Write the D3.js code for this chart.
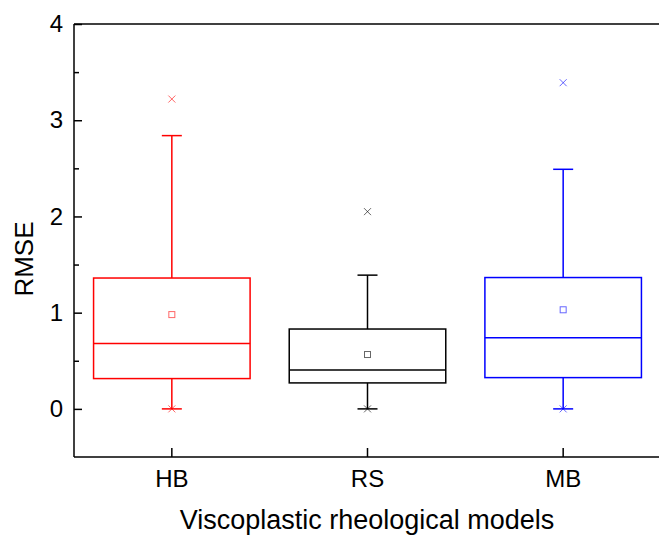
<!DOCTYPE html>
<html>
<head>
<meta charset="utf-8">
<script src="https://cdn.jsdelivr.net/npm/d3@7"></script>
<style>
    body { margin: 0; background: #fff; }
    svg { display: block; font-family: "Liberation Sans", Arial, sans-serif; }
    .axis text { font-size: 24px; fill: #000; }
    .axis line, .axis path { stroke: #000; stroke-width: 1.5px; }
</style>
</head>
<body>
<svg id="chart" width="659" height="535"></svg>
<script>
// box data
const models = ["HB", "RS", "MB"];
const colors = ["#ff0000", "#000000", "#0000ff"];
const whiskerLow = [0, 0, 0];
const q1 = [0.315, 0.27, 0.325];
const median = [0.68, 0.405, 0.74];
const q3 = [1.36, 0.83, 1.365];
const whiskerHigh = [2.84, 1.39, 2.49];
const mean = [0.98, 0.565, 1.03];
const minVal = [0, 0, 0];
const maxVal = [3.22, 2.05, 3.39];
const yTicks = [0, 1, 2, 3, 4];
const yMinorTicks = [0.5, 1.5, 2.5, 3.5];

const svg = d3.select("#chart");
const margin = { left: 74, top: 24, bottom: 457, right: 661 };

const x = d3.scaleBand().domain(models).range([margin.left, margin.right]).paddingInner(0.2).paddingOuter(0.1);
const y = d3.scaleLinear().domain([-0.5, 4]).range([margin.bottom, margin.top]);

const boxes = models.map((m, i) => ({
    name: m, color: colors[i], lo: whiskerLow[i], q1: q1[i], med: median[i],
    q3: q3[i], hi: whiskerHigh[i], mean: mean[i], min: minVal[i], max: maxVal[i]
}));

// top frame line (right side is cut by the window)
svg.append("line").attr("x1", margin.left).attr("x2", 659).attr("y1", margin.top).attr("y2", margin.top)
    .attr("stroke", "#000").attr("stroke-width", 1.5);

// y axis, ticks inward
const yAxis = d3.axisLeft(y).tickValues(yTicks).tickSize(-8).tickPadding(11).tickFormat(d3.format("d"));
const gy = svg.append("g").attr("class", "axis").attr("transform", `translate(${margin.left},0)`).call(yAxis);
gy.select(".domain").attr("d", `M0,${margin.top}V${margin.bottom}`);
// minor ticks
const yMinor = d3.axisLeft(y).tickValues(yMinorTicks).tickSize(-5).tickFormat("");
svg.append("g").attr("class", "axis").attr("transform", `translate(${margin.left},0)`)
    .call(yMinor).select(".domain").remove();

// x axis, ticks inward
const xAxis = d3.axisBottom(x).tickSize(-9).tickPadding(13);
const gx = svg.append("g").attr("class", "axis").attr("transform", `translate(0,${margin.bottom})`).call(xAxis);
gx.select(".domain").attr("d", `M${margin.left},0H659`);

// axis titles
svg.append("text").attr("transform", "translate(33,259) rotate(-90)")
    .attr("text-anchor", "middle").style("font-size", "26px").text("RMSE");
svg.append("text").attr("x", 367).attr("y", 529)
    .attr("text-anchor", "middle").style("font-size", "27px").text("Viscoplastic rheological models");

// boxes
const g = svg.selectAll(".box").data(boxes).enter().append("g").attr("class", "box");
const cx = d => x(d.name) + x.bandwidth() / 2;
const capW = 10;

g.append("line").attr("x1", cx).attr("x2", cx).attr("y1", d => y(d.q3)).attr("y2", d => y(d.hi))
    .attr("stroke", d => d.color).attr("stroke-width", 1.5);
g.append("line").attr("x1", cx).attr("x2", cx).attr("y1", d => y(d.q1)).attr("y2", d => y(d.lo))
    .attr("stroke", d => d.color).attr("stroke-width", 1.5);
g.append("line").attr("x1", d => cx(d) - capW).attr("x2", d => cx(d) + capW)
    .attr("y1", d => y(d.hi)).attr("y2", d => y(d.hi))
    .attr("stroke", d => d.color).attr("stroke-width", 1.5);
g.append("line").attr("x1", d => cx(d) - capW).attr("x2", d => cx(d) + capW)
    .attr("y1", d => y(d.lo)).attr("y2", d => y(d.lo))
    .attr("stroke", d => d.color).attr("stroke-width", 1.5);
g.append("rect").attr("x", d => x(d.name)).attr("width", x.bandwidth())
    .attr("y", d => y(d.q3)).attr("height", d => y(d.q1) - y(d.q3))
    .attr("fill", "none").attr("stroke", d => d.color).attr("stroke-width", 1.5);
g.append("line").attr("x1", d => x(d.name)).attr("x2", d => x(d.name) + x.bandwidth())
    .attr("y1", d => y(d.med)).attr("y2", d => y(d.med))
    .attr("stroke", d => d.color).attr("stroke-width", 1.5);

// mean square
g.append("rect").attr("x", d => cx(d) - 3).attr("y", d => y(d.mean) - 3)
    .attr("width", 6).attr("height", 6)
    .attr("fill", "none").attr("stroke", d => d.color).attr("stroke-opacity", 0.6).attr("stroke-width", 1);

// min / max crosses
const cross = (sel, key) => {
    const s = 3.5;
    sel.append("path")
        .attr("d", d => {
            const px = cx(d), py = y(d[key]);
            return `M${px - s},${py - s}L${px + s},${py + s}M${px - s},${py + s}L${px + s},${py - s}`;
        })
        .attr("stroke", d => d.color).attr("stroke-opacity", 0.6).attr("stroke-width", 1).attr("fill", "none");
};
cross(g, "max");
cross(g, "min");
</script>
</body>
</html>
